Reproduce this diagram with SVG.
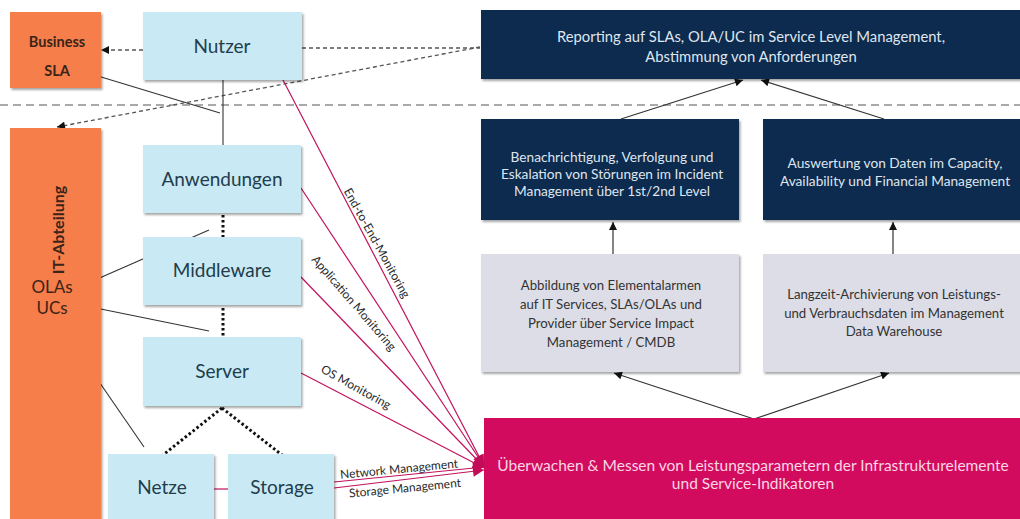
<svg xmlns="http://www.w3.org/2000/svg" width="1020" height="519" viewBox="0 0 1020 519">
  <defs>
    <filter id="shadow" x="-5%" y="-5%" width="115%" height="125%">
      <feDropShadow dx="1.5" dy="2" stdDeviation="1.2" flood-color="#000" flood-opacity="0.35"/>
    </filter>
    <marker id="arrow" viewBox="0 0 10 10" refX="10" refY="5" markerWidth="9" markerHeight="8" orient="auto" markerUnits="userSpaceOnUse">
      <path d="M0,0 L10,5 L0,10 z" fill="#111"/>
    </marker>
    <marker id="arrow-pink" viewBox="0 0 10 10" refX="10" refY="5" markerWidth="12" markerHeight="11" orient="auto" markerUnits="userSpaceOnUse">
      <path d="M0,0 L10,5 L0,10 z" fill="#c20c58"/>
    </marker>
  </defs>
  <style>
    text { font-family: Lato, "Open Sans", "Liberation Sans", sans-serif; }
    .orange { fill: #f67e4c; }
    .blue { fill: #c9eaf4; }
    .navy { fill: #0c2c50; }
    .grey { fill: #dcdde7; }
    .pink { fill: #d30b5f; }
    .layer { font-size: 19px; fill: #223c4c; text-anchor: middle; }
    .org { font-size: 17px; fill: #3a2418; text-anchor: middle; }
    .org-t { font-size: 16px; font-weight: bold; fill: #3a2418; text-anchor: middle; }
    .org-b { font-size: 14.5px; font-weight: bold; fill: #3a2418; text-anchor: middle; }
    .navy-t { font-size: 13.7px; fill: #dfe6ee; text-anchor: middle; }
    .navy-l { font-size: 14.8px; fill: #dfe6ee; text-anchor: middle; }
    .grey-t { font-size: 13.2px; fill: #333; text-anchor: middle; }
    .pink-t { font-size: 15.5px; fill: #fbd6e5; text-anchor: middle; }
    .mon { font-size: 12px; fill: #2a2a2a; text-anchor: middle; }
    .sep { stroke: #555; stroke-width: 1.2; stroke-dasharray: 8 5; fill: none; }
    .dash { stroke: #555; stroke-width: 1.3; stroke-dasharray: 4 3; fill: none; }
    .dots { stroke: #111; stroke-width: 3; stroke-dasharray: 2.5 2.5; fill: none; }
    .thin { stroke: #333; stroke-width: 1.1; fill: none; }
    .solid { stroke: #333; stroke-width: 1.2; fill: none; }
    .mline { stroke: #c2125c; stroke-width: 1.2; fill: none; }
  </style>

  <!-- separator between business and IT level -->
  <line class="sep" x1="0" y1="105" x2="1020" y2="105"/>

  <g id="connectors">
    <!-- business relations -->
    <line class="dash" x1="143" y1="50" x2="101" y2="50" marker-end="url(#arrow)"/>
    <line class="dash" x1="302" y1="48" x2="480" y2="48"/>
    <line class="dash" x1="480" y1="47" x2="57" y2="127" marker-end="url(#arrow)"/>
    <line class="thin" x1="78" y1="70" x2="220" y2="113"/>
    <line class="thin" x1="223" y1="80" x2="223" y2="145"/>

    <!-- OLA / UC relations -->
    <line class="thin" x1="95" y1="280" x2="209" y2="230"/>
    <line class="thin" x1="86" y1="306" x2="209" y2="331"/>
    <line class="thin" x1="60" y1="325" x2="144" y2="447"/>

    <!-- stack dependencies -->
    <line class="dots" x1="223" y1="215" x2="223" y2="237"/>
    <line class="dots" x1="223" y1="308" x2="223" y2="336"/>
    <line class="dots" x1="222" y1="408" x2="163" y2="455"/>
    <line class="dots" x1="222" y1="408" x2="282" y2="455"/>
    <line class="mline" x1="214" y1="489" x2="228" y2="489"/>

    <!-- monitoring feeds -->
    <line class="mline" x1="283" y1="80" x2="484" y2="466" marker-end="url(#arrow-pink)"/>
    <line class="mline" x1="301" y1="188" x2="484" y2="466" marker-end="url(#arrow-pink)"/>
    <line class="mline" x1="301" y1="277" x2="484" y2="467" marker-end="url(#arrow-pink)"/>
    <line class="mline" x1="301" y1="373" x2="484" y2="468" marker-end="url(#arrow-pink)"/>
    <line class="mline" x1="334" y1="482" x2="484" y2="467" marker-end="url(#arrow-pink)"/>
    <line class="mline" x1="334" y1="488" x2="484" y2="470" marker-end="url(#arrow-pink)"/>
    <text class="mon" transform="translate(377,243) rotate(61)" dy="0.35em">End-to-End-Monitoring</text>
    <text class="mon" transform="translate(354,303) rotate(49)" dy="0.35em">Application Monitoring</text>
    <text class="mon" transform="translate(356,387) rotate(29)" dy="0.35em">OS Monitoring</text>
    <text class="mon" transform="translate(399,469) rotate(-5.5)" dy="0.35em">Network Management</text>
    <text class="mon" transform="translate(405,488) rotate(-5.5)" dy="0.35em">Storage Management</text>

    <!-- process flow -->
    <line class="solid" x1="613" y1="254" x2="613" y2="222" marker-end="url(#arrow)"/>
    <line class="solid" x1="893" y1="254" x2="893" y2="222" marker-end="url(#arrow)"/>
    <line class="solid" x1="754" y1="419" x2="614" y2="373" marker-end="url(#arrow)"/>
    <line class="solid" x1="754" y1="419" x2="889" y2="373" marker-end="url(#arrow)"/>
    <line class="solid" x1="621" y1="119" x2="743" y2="80" marker-end="url(#arrow)"/>
    <line class="solid" x1="884" y1="119" x2="761" y2="80" marker-end="url(#arrow)"/>
  </g>

  <g id="business">
    <rect class="orange" x="10" y="12" width="91" height="76" filter="url(#shadow)"/>
    <text class="org-b" x="57" y="47">Business</text>
    <text class="org-b" x="57" y="76">SLA</text>
  </g>

  <g id="it-abteilung">
    <rect class="orange" x="10" y="128" width="91" height="400" filter="url(#shadow)"/>
    <text class="org-t" transform="translate(58,230) rotate(-90)" dy="0.35em">IT-Abteilung</text>
    <text class="org" x="52" y="293">OLAs</text>
    <text class="org" x="52" y="314">UCs</text>
  </g>

  <g id="nutzer">
    <rect class="blue" x="143" y="12" width="159" height="68" filter="url(#shadow)"/>
    <text class="layer" x="222" y="53">Nutzer</text>
  </g>

  <g id="anwendungen">
    <rect class="blue" x="143" y="145" width="158" height="68" filter="url(#shadow)"/>
    <text class="layer" x="222" y="186">Anwendungen</text>
  </g>

  <g id="middleware">
    <rect class="blue" x="143" y="237" width="158" height="68" filter="url(#shadow)"/>
    <text class="layer" x="222" y="277">Middleware</text>
  </g>

  <g id="server">
    <rect class="blue" x="143" y="337" width="158" height="69" filter="url(#shadow)"/>
    <text class="layer" x="222" y="378">Server</text>
  </g>

  <g id="netze">
    <rect class="blue" x="108" y="454" width="106" height="75" filter="url(#shadow)"/>
    <text class="layer" x="162" y="494">Netze</text>
  </g>

  <g id="storage">
    <rect class="blue" x="228" y="454" width="106" height="75" filter="url(#shadow)"/>
    <text class="layer" x="282" y="494">Storage</text>
  </g>

  <g id="reporting">
    <rect class="navy" x="481" y="10" width="545" height="69" filter="url(#shadow)"/>
    <text class="navy-l" x="751" y="42">Reporting auf SLAs, OLA/UC im Service Level Management,</text>
    <text class="navy-l" x="751" y="62">Abstimmung von Anforderungen</text>
  </g>

  <g id="incident">
    <rect class="navy" x="481" y="119" width="258" height="101" filter="url(#shadow)"/>
    <text class="navy-t" x="612" y="162">Benachrichtigung,  Verfolgung und</text>
    <text class="navy-t" x="612" y="179">Eskalation von Störungen im Incident</text>
    <text class="navy-t" x="612" y="196">Management über 1st/2nd Level</text>
  </g>

  <g id="capacity">
    <rect class="navy" x="763" y="119" width="263" height="101" filter="url(#shadow)"/>
    <text class="navy-t" x="895" y="168">Auswertung von Daten im Capacity,</text>
    <text class="navy-t" x="895" y="186">Availability und Financial Management</text>
  </g>

  <g id="impact">
    <rect class="grey" x="481" y="254" width="258" height="118" filter="url(#shadow)"/>
    <text class="grey-t" x="611" y="290">Abbildung von Elementalarmen</text>
    <text class="grey-t" x="611" y="309">auf IT Services, SLAs/OLAs und</text>
    <text class="grey-t" x="611" y="328">Provider über Service Impact</text>
    <text class="grey-t" x="611" y="347">Management / CMDB</text>
  </g>

  <g id="warehouse">
    <rect class="grey" x="763" y="254" width="263" height="118" filter="url(#shadow)"/>
    <text class="grey-t" x="894" y="299">Langzeit-Archivierung von Leistungs-</text>
    <text class="grey-t" x="894" y="318">und Verbrauchsdaten im Management</text>
    <text class="grey-t" x="894" y="336">Data Warehouse</text>
  </g>

  <g id="monitoring">
    <rect class="pink" x="484" y="418" width="542" height="110"/>
    <text class="pink-t" x="753" y="471">Überwachen &amp; Messen von Leistungsparametern der Infrastrukturelemente</text>
    <text class="pink-t" x="753" y="489">und Service-Indikatoren</text>
  </g>
</svg>
